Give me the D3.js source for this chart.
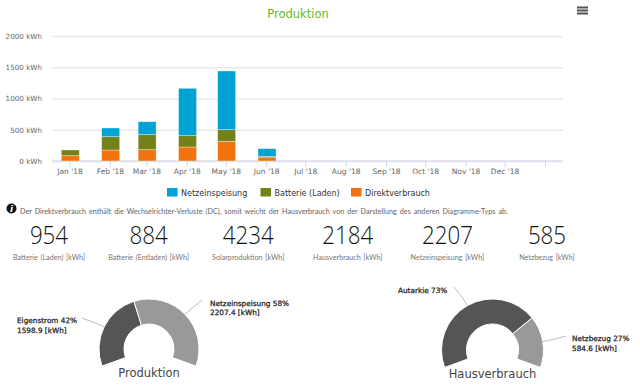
<!DOCTYPE html>
<html>
<head>
<meta charset="utf-8">
<script src="https://cdn.jsdelivr.net/npm/d3@7"></script>
<style>
  html, body { margin: 0; padding: 0; background: #fff; }
  svg { display: block; }
  text { font-family: "DejaVu Sans", sans-serif; }
</style>
</head>
<body>
<div id="chart"></div>
<script>
// Monthly values in kWh
const months = ["Jan '18", "Feb '18", "Mar '18", "Apr '18", "May '18", "Jun '18", "Jul '18", "Aug '18", "Sep '18", "Oct '18", "Nov '18", "Dec '18"];
const direktverbrauch = [85, 176, 181, 224, 315, 53, 0, 0, 0, 0, 0, 0];
const batterieLaden = [91, 213, 240, 181, 186, 22, 0, 0, 0, 0, 0, 0];
const netzeinspeisung = [0, 139, 208, 758, 939, 122, 0, 0, 0, 0, 0, 0];
const yTicks = [0, 500, 1000, 1500, 2000];

const seriesNames = ["Netzeinspeisung", "Batterie (Laden)", "Direktverbrauch"];
const seriesColors = ["#00a3d3", "#748119", "#f1730f"];

const statValues = ["954", "884", "4234", "2184", "2207", "585"];
const statLabels = ["Batterie (Laden) [kWh]", "Batterie (Entladen) [kWh]", "Solarproduktion [kWh]", "Hausverbrauch [kWh]", "Netzeinspeisung [kWh]", "Netzbezug [kWh]"];

const produktionValues = [1598.9, 2207.4];
const produktionLabels = [["Eigenstrom 42%", "1598.9 [kWh]"], ["Netzeinspeisung 58%", "2207.4 [kWh]"]];
const hausValues = [1599.4, 584.6];
const hausLabels = [["Autarkie 73%"], ["Netzbezug 27%", "584.6 [kWh]"]];

const note = "Der Direktverbrauch enthält die Wechselrichter-Verluste (DC), somit weicht der Hausverbrauch von der Darstellung des anderen Diagramme-Typs ab.";

const width = 640;
const height = 392;

const svg = d3.select("#chart").append("svg")
    .attr("width", width)
    .attr("height", height);

// Title and menu icon
svg.append("text")
    .attr("x", 298)
    .attr("y", 17.5)
    .attr("text-anchor", "middle")
    .attr("font-size", 11.5)
    .attr("fill", "#62b92f")
    .text("Produktion");

svg.append("g").selectAll("rect")
    .data([0, 1, 2])
    .enter().append("rect")
    .attr("x", 577)
    .attr("y", d => 6.5 + d * 3)
    .attr("width", 11)
    .attr("height", 2)
    .attr("fill", "#555");

// Bar chart scales: time axis, ticks at the first of each month
const x = d3.scaleTime()
    .domain([new Date(2018, 0, 1), new Date(2019, 0, 1)])
    .range([69.5, 545]);

const y = d3.scaleLinear()
    .domain([0, 2000])
    .range([161, 36]);

const monthDates = months.map((m, i) => new Date(2018, i, 1));

// Grid and y labels
const yAxis = d3.axisLeft(y)
    .tickValues(yTicks)
    .tickSize(-511)
    .tickPadding(10)
    .tickFormat(d => d + " kWh");

const yG = svg.append("g")
    .attr("transform", "translate(52,0)")
    .call(yAxis);
yG.select(".domain").remove();
yG.selectAll(".tick line").attr("stroke", "#e8e8e8").attr("stroke-width", 1.3);
yG.selectAll(".tick text")
    .attr("font-size", 7.2)
    .attr("fill", "#666")
    .attr("font-family", "DejaVu Sans");

// X axis
const xAxis = d3.axisBottom(x)
    .tickValues(monthDates.concat([new Date(2019, 0, 1)]))
    .tickSize(6)
    .tickPadding(2)
    .tickFormat((d, i) => months[i] || "");

const xG = svg.append("g")
    .attr("transform", "translate(0,161)")
    .call(xAxis);
xG.select(".domain").attr("d", "M52,0H563").attr("stroke", "#ccd6eb");
xG.selectAll(".tick line").attr("stroke", "#ccd6eb");
xG.selectAll(".tick text")
    .attr("font-size", 7.5)
    .attr("fill", "#666")
    .attr("font-family", "DejaVu Sans");

// Stacked bars
const rows = months.map((m, i) => ({
    date: monthDates[i],
    direkt: direktverbrauch[i],
    batterie: batterieLaden[i],
    netz: netzeinspeisung[i]
}));

const stack = d3.stack().keys(["direkt", "batterie", "netz"]);
const stackColors = [seriesColors[2], seriesColors[1], seriesColors[0]];
const barWidth = 18;

svg.append("g").selectAll("g")
    .data(stack(rows))
    .enter().append("g")
    .attr("fill", (d, i) => stackColors[i])
    .selectAll("rect")
    .data(d => d.filter(p => p[1] > p[0]))
    .enter().append("rect")
    .attr("x", d => x(d.data.date) - barWidth / 2 + 0.8)
    .attr("y", d => y(d[1]))
    .attr("width", barWidth)
    .attr("height", d => y(d[0]) - y(d[1]))
    .attr("stroke", "#fff")
    .attr("stroke-opacity", 0.5)
    .attr("stroke-width", 0.7);

// Legend
const legendX = [167, 260.5, 351];
const legend = svg.append("g").selectAll("g")
    .data(seriesNames)
    .enter().append("g")
    .attr("transform", (d, i) => `translate(${legendX[i]},188)`);

legend.append("rect")
    .attr("width", 10.5)
    .attr("height", 8.5)
    .attr("fill", (d, i) => seriesColors[i]);

legend.append("text")
    .attr("x", 14)
    .attr("y", 8)
    .attr("font-size", 8)
    .attr("fill", "#333")
    .text(d => d);

// Info note
svg.append("circle")
    .attr("cx", 11.5)
    .attr("cy", 208.5)
    .attr("r", 5)
    .attr("fill", "#111");
svg.append("text")
    .attr("x", 11.5)
    .attr("y", 212)
    .attr("text-anchor", "middle")
    .attr("font-size", 9)
    .attr("font-weight", "bold")
    .attr("font-style", "italic")
    .attr("font-family", "Liberation Serif")
    .attr("fill", "#fff")
    .text("i");
svg.append("text")
    .attr("x", 20)
    .attr("y", 214)
    .attr("font-size", 7.2)
    .style("font-family", "Lato")
    .attr("word-spacing", 1.2)
    .attr("fill", "#666")
    .text(note);

// Key figures
const statX = d3.scalePoint()
    .domain(statLabels)
    .range([49, 547]);

svg.append("g").selectAll("text")
    .data(statValues)
    .enter().append("text")
    .attr("x", (d, i) => statX(statLabels[i]))
    .attr("y", 244)
    .attr("text-anchor", "middle")
    .attr("font-size", 26)
    .attr("font-weight", 300)
    .style("font-family", "'Open Sans'")
    .attr("fill", "#111")
    .attr("textLength", d => d.length * 12.75)
    .attr("lengthAdjust", "spacingAndGlyphs")
    .text(d => d);

svg.append("g").selectAll("text")
    .data(statLabels)
    .enter().append("text")
    .attr("x", d => statX(d))
    .attr("y", 260)
    .attr("text-anchor", "middle")
    .attr("font-size", 7.2)
    .style("font-family", "Lato")
    .attr("word-spacing", 0.8)
    .attr("fill", "#777")
    .text(d => d);

// Half donuts
function drawDonut(cx, cy, outer, inner, values, labels, labelPos, title) {
    const pie = d3.pie()
        .sort(null)
        .startAngle(-110 * Math.PI / 180)
        .endAngle(110 * Math.PI / 180);
    const arc = d3.arc().innerRadius(inner).outerRadius(outer);
    const colors = ["#555555", "#999999"];
    const g = svg.append("g").attr("transform", `translate(${cx},${cy})`);
    const arcs = pie(values);

    g.selectAll("path")
        .data(arcs)
        .enter().append("path")
        .attr("d", arc)
        .attr("fill", (d, i) => colors[i])
        .attr("stroke", "#fff")
        .attr("stroke-width", 1);

    // connector from the slice middle to its label
    g.selectAll("path.conn")
        .data(arcs)
        .enter().append("path")
        .attr("class", "conn")
        .attr("fill", "none")
        .attr("stroke", "#aaa")
        .attr("stroke-width", 0.8)
        .attr("d", (d, i) => {
            const a = (d.startAngle + d.endAngle) / 2;
            const px = Math.sin(a) * outer;
            const py = -Math.cos(a) * outer;
            const ex = labelPos[i].lx - cx;
            const ey = labelPos[i].ly - cy;
            const mx = Math.sin(a) * (outer + 10);
            const my = -Math.cos(a) * (outer + 10);
            return `M${ex},${ey}Q${mx},${my} ${px},${py}`;
        });

    labels.forEach((lines, i) => {
        svg.append("text")
            .attr("x", labelPos[i].x)
            .attr("y", labelPos[i].y)
            .attr("font-size", 7.3)
            .attr("stroke", "#222")
            .attr("stroke-width", 0.25)
            .attr("fill", "#222")
            .selectAll("tspan")
            .data(lines)
            .enter().append("tspan")
            .attr("x", labelPos[i].x)
            .attr("dy", (l, k) => k ? 9.5 : 0)
            .text(l => l);
    });

    svg.append("text")
        .attr("x", cx)
        .attr("y", cy + 28)
        .attr("text-anchor", "middle")
        .attr("font-size", 11.5)
        .attr("fill", "#444")
        .text(title);
}

drawDonut(149, 349, 50, 25, produktionValues, produktionLabels, [
    { x: 17, y: 323, lx: 82, ly: 318 },
    { x: 210, y: 305.5, lx: 202, ly: 300 }
], "Produktion");

drawDonut(492.5, 350, 51, 26, hausValues, hausLabels, [
    { x: 398, y: 292.5, lx: 454, ly: 287 },
    { x: 572, y: 341, lx: 566, ly: 336 }
], "Hausverbrauch");
</script>
</body>
</html>
